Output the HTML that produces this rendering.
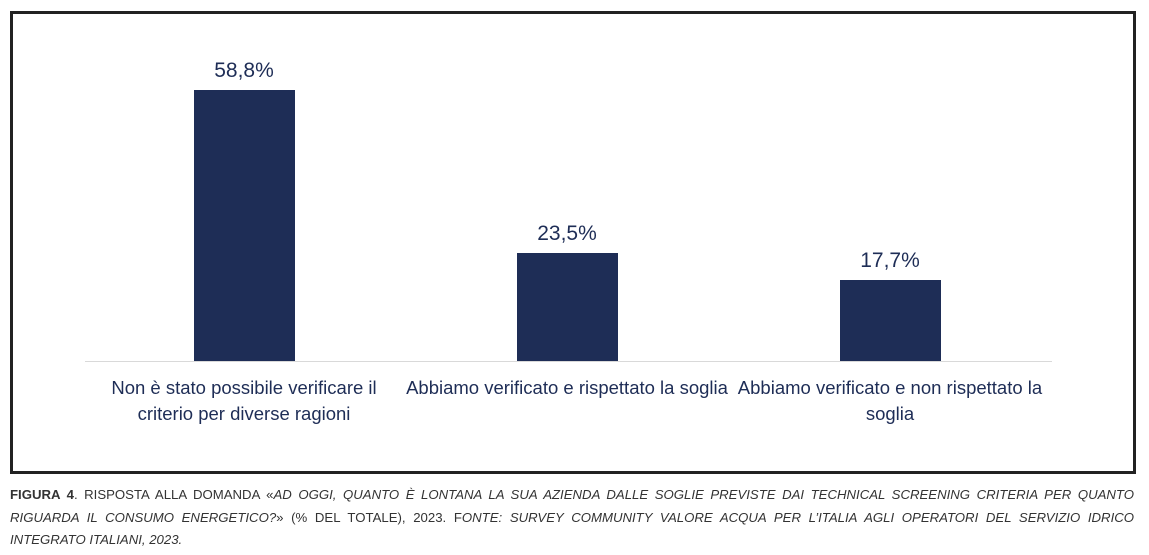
<!DOCTYPE html>
<html><head><meta charset="utf-8"><style>
body{margin:0;width:1149px;height:555px;background:#fff;position:relative;overflow:hidden;font-family:"Liberation Sans",sans-serif}
.frame{position:absolute;left:10px;top:11px;width:1120px;height:457px;border:3px solid #222}
.bar{position:absolute;background:#1e2d56;width:101px}
.val{position:absolute;width:160px;text-align:center;font-size:21px;color:#1e2d56}
.cat{position:absolute;text-align:center;font-size:18.5px;line-height:26px;color:#1e2d56}
.axis{position:absolute;left:85px;top:361px;width:967px;height:1px;background:#d9d9d9}
.cap{position:absolute;left:10px;top:484px;width:1124px;font-size:13.2px;line-height:22.5px;color:#333;text-align:justify;text-align-last:left}
</style></head><body>
<div class="frame"></div>
<div class="axis"></div>
<div class="bar" style="left:194px;top:90px;height:271px"></div>
<div class="bar" style="left:517px;top:253px;height:108px"></div>
<div class="bar" style="left:840px;top:280px;height:81px"></div>
<div class="val" style="left:164px;top:59px">58,8%</div>
<div class="val" style="left:487px;top:222px">23,5%</div>
<div class="val" style="left:810px;top:249px">17,7%</div>
<div class="cat" style="left:104px;width:280px;top:375px">Non è stato possibile verificare il criterio per diverse ragioni</div>
<div class="cat" style="left:397px;width:340px;top:375px">Abbiamo verificato e rispettato la soglia</div>
<div class="cat" style="left:730px;width:320px;top:375px">Abbiamo verificato e non rispettato la soglia</div>
<div class="cap"><b>FIGURA 4</b>. RISPOSTA ALLA DOMANDA «<i>AD OGGI, QUANTO È LONTANA LA SUA AZIENDA DALLE SOGLIE PREVISTE DAI TECHNICAL SCREENING CRITERIA PER QUANTO RIGUARDA IL CONSUMO ENERGETICO?</i>» (% DEL TOTALE), 2023. F<i>ONTE: SURVEY COMMUNITY VALORE ACQUA PER L’ITALIA AGLI OPERATORI DEL SERVIZIO IDRICO INTEGRATO ITALIANI, 2023.</i></div>
</body></html>
